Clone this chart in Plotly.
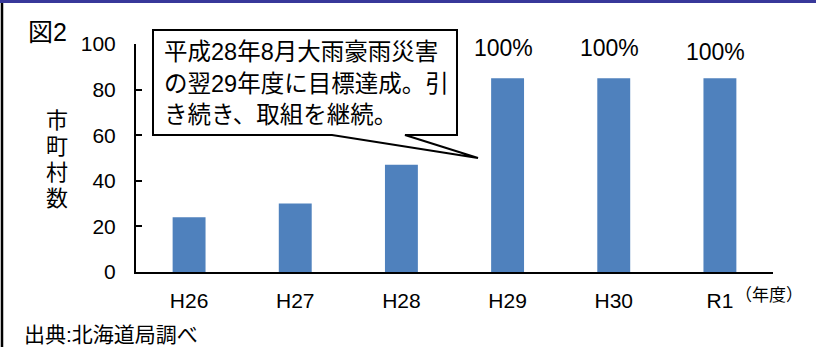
import plotly.graph_objects as go

# Fiscal years and number of municipalities
years = ["H26", "H27", "H28", "H29", "H30", "R1"]
municipalities = [24, 30, 47, 85, 85, 85]
rate_labels = ["", "", "", "100%", "100%", "100%"]
rate_shift = [0, 0, 0, 30, 30, 26]

y_ticks = [0, 20, 40, 60, 80, 100]
y_title_chars = ["市", "町", "村", "数"]
callout_lines = [
    "平成28年8月大雨豪雨災害",
    "の翌29年度に目標達成。引",
    "き続き、取組を継続。",
]

W, H = 816, 347
ML, MR, MT, MB = 136, 43, 44, 75
PW, PH = W - ML - MR, H - MT - MB

LATIN = "Liberation Sans, Arial, Noto Sans CJK JP, sans-serif"
CJK = "Noto Sans CJK JP, sans-serif"


def px(x):
    return (x - ML) / PW


def py(y):
    return (H - MB - y) / PH


fig = go.Figure(
    go.Bar(
        x=years,
        y=municipalities,
        width=0.31,
        marker=dict(color="#4F81BD", line=dict(width=0)),
        hoverinfo="skip",
    )
)

annotations = []

# Achievement-rate labels above the bars
for yr, val, lab, sh in zip(years, municipalities, rate_labels, rate_shift):
    if lab:
        annotations.append(dict(
            x=yr, y=val, xref="x", yref="y", text=lab, showarrow=False,
            xshift=-4, yshift=sh, font=dict(family=LATIN, size=23, color="black"),
        ))

# Vertical axis title, one character per line
for i, ch in enumerate(y_title_chars):
    annotations.append(dict(
        x=px(57), y=py(120 + 26.3 * i), xref="paper", yref="paper", text=ch,
        showarrow=False, xanchor="center", yanchor="middle",
        font=dict(family=LATIN, size=22, color="black"),
    ))

# Callout text
for i, line in enumerate(callout_lines):
    annotations.append(dict(
        x=px(162), y=py(52 + 31.5 * i), xref="paper", yref="paper", text=line,
        showarrow=False, xanchor="left", yanchor="middle",
        font=dict(family=LATIN, size=23.5, color="black"),
    ))

annotations += [
    dict(x=px(26), y=py(32), xref="paper", yref="paper", text="図2",
         showarrow=False, xanchor="left", yanchor="middle",
         font=dict(family=LATIN, size=25, color="black")),
    dict(x=px(733), y=py(293), xref="paper", yref="paper", text="（年度）",
         showarrow=False, xanchor="left", yanchor="middle",
         font=dict(family=CJK, size=17, color="black")),
    dict(x=px(22), y=py(334), xref="paper", yref="paper", text="出典:北海道局調べ",
         showarrow=False, xanchor="left", yanchor="middle",
         font=dict(family=LATIN, size=21, color="black")),
]

# Speech-bubble outline
bubble = [(153, 30), (457, 30), (457, 135), (405, 135), (478, 158),
          (332, 135), (153, 135)]
path = "M " + " L ".join(f"{px(a):.5f},{py(b):.5f}" for a, b in bubble) + " Z"

shapes = [
    dict(type="path", xref="paper", yref="paper", path=path,
         fillcolor="white", line=dict(color="black", width=2)),
    # frame: navy rule along the top, black rule down the left side
    dict(type="rect", xref="paper", yref="paper", x0=px(0), x1=px(W),
         y0=py(3), y1=py(0), fillcolor="#38389A", line=dict(width=0)),
    dict(type="line", xref="paper", yref="paper", x0=px(2), x1=px(2),
         y0=py(3), y1=py(H), line=dict(color="black", width=2.5)),
]

fig.update_layout(
    width=W, height=H,
    margin=dict(l=ML, r=MR, t=MT, b=MB),
    paper_bgcolor="white", plot_bgcolor="white",
    showlegend=False,
    bargap=0.69,
    annotations=annotations,
    shapes=shapes,
    xaxis=dict(
        range=[-0.5, 5.5], showline=True, linecolor="black", linewidth=2,
        showgrid=False, zeroline=False, ticks="",
        tickfont=dict(family=LATIN, size=21, color="black"),
        ticklabelstandoff=9,
    ),
    yaxis=dict(
        range=[0, 100], tickvals=y_ticks, showline=True, linecolor="black",
        linewidth=2, showgrid=False, zeroline=False, ticks="inside",
        ticklen=6, tickwidth=2, tickcolor="black",
        tickfont=dict(family=LATIN, size=21, color="black"),
        ticklabelstandoff=14,
    ),
)

fig.write_html("out.html")
